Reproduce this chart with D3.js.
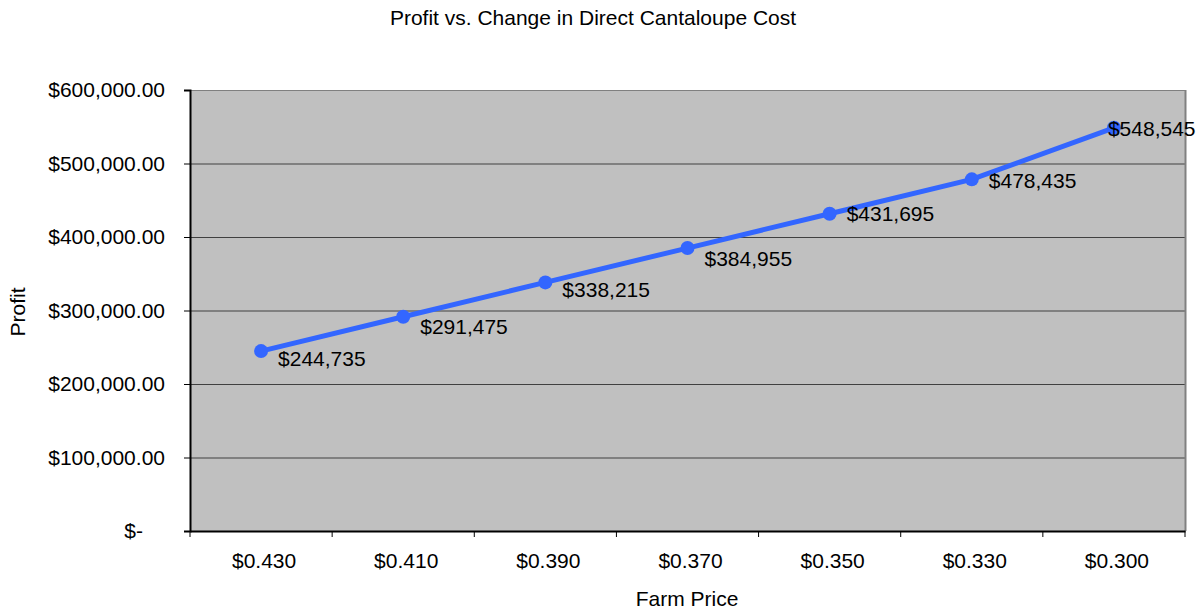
<!DOCTYPE html>
<html><head><meta charset="utf-8">
<script src="https://cdn.jsdelivr.net/npm/d3@7"></script>
<style>
body{margin:0;background:#fff;}
text{font-family:"Liberation Sans",Arial,sans-serif;fill:#000;}
</style></head>
<body><svg id="c" width="1203" height="610"></svg>
<script>
const categories = ["$0.430","$0.410","$0.390","$0.370","$0.350","$0.330","$0.300"];
const profits = [244735,291475,338215,384955,431695,478435,548545];
const yTicks = [0,100000,200000,300000,400000,500000,600000];
const title = "Profit vs. Change in Direct Cantaloupe Cost";
const xTitle = "Farm Price";
const yTitle = "Profit";

const W=1203,H=610;
const m={left:190,right:1185,top:90,bottom:531};
const svg=d3.select("#c");
const fs=21;

const x=d3.scaleBand().domain(categories).range([m.left,m.right]);
const y=d3.scaleLinear().domain([0,600000]).range([m.bottom,m.top]);

svg.append("rect").attr("x",m.left).attr("y",m.top).attr("width",m.right-m.left).attr("height",m.bottom-m.top).attr("fill","#c0c0c0");

// gridlines
svg.append("g").selectAll("line").data(yTicks.filter(d=>d>0)).join("line")
  .attr("x1",m.left).attr("x2",m.right).attr("y1",d=>y(d)+0.5).attr("y2",d=>y(d)+0.5)
  .attr("stroke",d=>d===600000?"#808080":"#404040").attr("stroke-width",1);
// right border
svg.append("line").attr("x1",m.right+0.5).attr("x2",m.right+0.5).attr("y1",m.top).attr("y2",m.bottom).attr("stroke","#808080").attr("stroke-width",2);

// y axis
const fmtY=d=>d===0?"$-":"$"+d3.format(",.2f")(d);
const yAxis=svg.append("g").attr("transform",`translate(${m.left},0)`)
  .call(d3.axisLeft(y).tickValues(yTicks).tickFormat(fmtY).tickSize(6).tickPadding(19));
yAxis.select(".domain").attr("stroke","#000").attr("stroke-width",2);
yAxis.selectAll(".tick line").attr("stroke","#000");
yAxis.selectAll(".tick text").attr("font-size",fs).attr("font-family","Liberation Sans, Arial, sans-serif").attr("fill","#000")
  .attr("dx",d=>d===0?-22:0);

// x axis
const xAxis=svg.append("g").attr("transform",`translate(0,${m.bottom})`)
  .call(d3.axisBottom(x).tickSize(0).tickPadding(22));
xAxis.select(".domain").attr("stroke","#000").attr("stroke-width",2);
xAxis.selectAll(".tick text").attr("font-size",fs).attr("font-family","Liberation Sans, Arial, sans-serif").attr("fill","#000").attr("dx",3);
// boundary ticks
const bounds=categories.map(c=>x(c)).concat([m.right]);
xAxis.selectAll(".bt").data(bounds).join("line").attr("class","bt")
  .attr("x1",d=>d).attr("x2",d=>d).attr("y1",0).attr("y2",6).attr("stroke","#000");

// line
const cx=c=>x(c)+x.bandwidth()/2;
const pts=categories.map((c,i)=>({c,v:profits[i]}));
svg.append("path").datum(pts).attr("fill","none").attr("stroke","#3366ff").attr("stroke-width",5)
  .attr("d",d3.line().x(d=>cx(d.c)).y(d=>y(d.v)));
svg.append("g").selectAll("circle").data(pts).join("circle")
  .attr("cx",d=>cx(d.c)).attr("cy",d=>y(d.v)).attr("r",7).attr("fill","#3366ff");

// labels
const labDx=[17,17,17,17,17,17,-6];
const labDy=[8,10,7,11,0,1,1];
svg.append("g").selectAll("text").data(pts).join("text")
  .attr("x",(d,i)=>cx(d.c)+labDx[i]).attr("y",(d,i)=>y(d.v)+labDy[i])
  .attr("dy","0.35em").attr("font-size",fs).text(d=>"$"+d3.format(",")(d.v));

// titles
svg.append("text").attr("x",593).attr("y",25).attr("text-anchor","middle").attr("font-size",fs).text(title);
svg.append("text").attr("x",687).attr("y",606).attr("text-anchor","middle").attr("font-size",fs).text(xTitle);
svg.append("text").attr("transform","translate(25,312) rotate(-90)").attr("text-anchor","middle").attr("font-size",fs).text(yTitle);
</script></body></html>
